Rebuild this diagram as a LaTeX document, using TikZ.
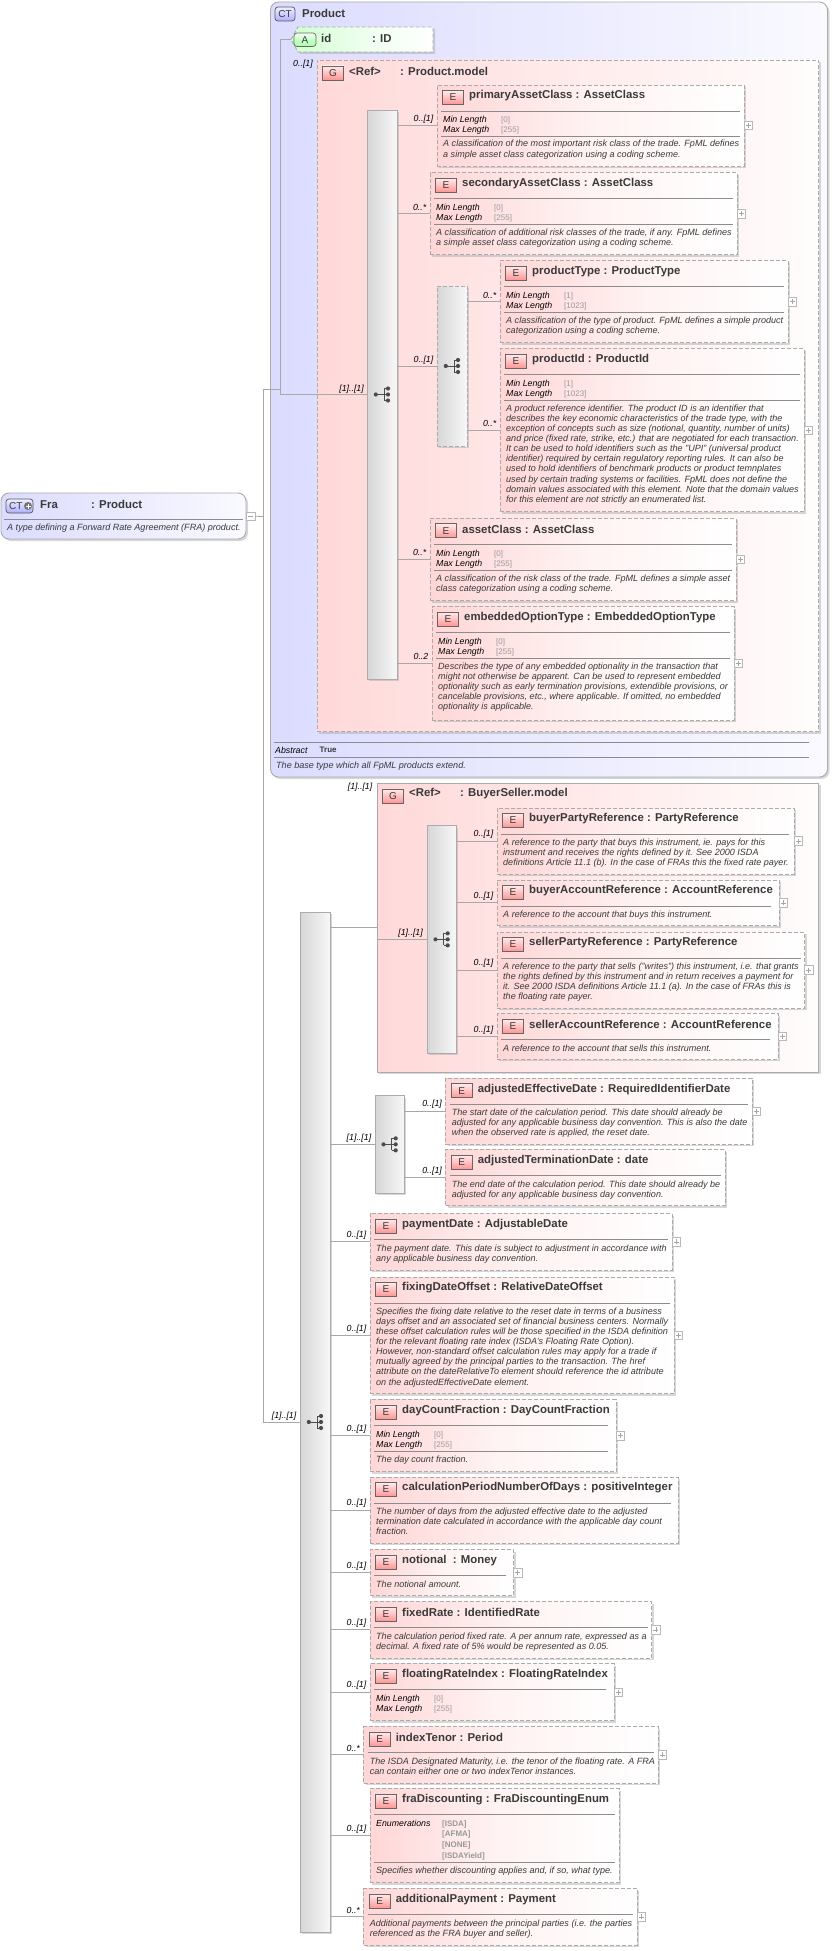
\documentclass[tikz,border=0pt]{standalone}
\usepackage{fontspec}
\setmainfont{Liberation Sans}
\usetikzlibrary{shadows}
\definecolor{edge}{HTML}{ABABAB}
\definecolor{wire}{HTML}{A8A8A8}
\definecolor{ink}{HTML}{3A3A3A}
\definecolor{soft}{HTML}{999999}
\tikzset{
  shd/.style={drop shadow={shadow xshift=2pt,shadow yshift=-2pt,fill=black!35,opacity=.45}},
  dashline/.style={draw=edge,line width=.9pt,dash pattern=on 4pt off 2pt},
  box/.style={anchor=north west,inner sep=0pt,outer sep=0pt},
  elemstyle/.style={box,shd,dashline,left color=red!16!white,right color=white,middle color=red!5!white},
  groupdash/.style={box,shd,dashline,left color=red!15!white,right color=red!1!white,middle color=red!8!white},
  groupsolid/.style={box,shd,draw=edge,line width=.9pt,left color=red!15!white,right color=red!1!white,middle color=red!8!white},
  ctbox/.style={box,shd,draw=edge,line width=.9pt,rounded corners=8pt,left color=blue!14!white,right color=blue!2!white,middle color=blue!8!white},
  barsolid/.style={box,shd,draw=edge,line width=.8pt,left color=black!16,right color=black!3},
  bardash/.style={box,shd,dashline,left color=black!16,right color=black!3},
  badge/.style={box,draw=black!60,line width=.7pt,minimum width=21pt,minimum height=14pt,top color=red!8!white,bottom color=red!42!white,text=ink,font=\fontsize{10}{10}\selectfont},
  ctbadge/.style={box,draw=black!65,line width=.7pt,rounded corners=3pt,minimum height=14pt,top color=blue!6!white,bottom color=blue!32!white,text=ink,font=\fontsize{10}{10}\selectfont},
  titlet/.style={anchor=west,inner sep=0pt,text=ink,font=\fontsize{11.4}{11.4}\selectfont\bfseries},
  desct/.style={anchor=north west,inner sep=0pt,align=left,text=ink,font=\fontsize{9.05}{10.13}\selectfont\itshape},
  facet/.style={anchor=north west,inner sep=0pt,align=left,text=black,font=\fontsize{8.8}{9.8}\selectfont\itshape},
  facetv/.style={anchor=north west,inner sep=0pt,align=left,text=soft,font=\fontsize{8}{9.8}\selectfont},
  mult/.style={anchor=east,inner sep=0pt,text=black,font=\fontsize{8.8}{8.8}\selectfont\itshape},
  wirel/.style={draw=wire,line width=.8pt},
  rulel/.style={draw=black!45,line width=.8pt},
  plusb/.style={anchor=west,inner sep=0pt,outer sep=0pt,draw=black!28,fill=white,line width=.6pt,minimum size=8.5pt},
}
\newcommand{\El}[7]{% id x1 y1 x2 y2 inset title
  \node[elemstyle,minimum width=#4pt-#2pt,minimum height=#5pt-#3pt] (#1) at (#2,#3) {};
  \node[badge] (#1-b) at (#2+5.5,#3+5.5) {E};
  \node[titlet] (#1-t) at (#2+32,#3+11) {#7};
  \draw[rulel] (#2+4,#3+26) -- (#4-#6,#3+26);
}
\newcommand{\Rl}[4]{\draw[rulel] (#1+4,#3) -- (#2-#4,#3);}
\newcommand{\Dsc}[4]{\node[desct] (#1-d) at (#2+6,#3-4) {\rule{0pt}{7pt}#4};}
\newcommand{\Fct}[4]{%
  \node[facet] (#1-f) at (#2+6,#3-3.5) {\rule{0pt}{7pt}Min Length\\Max Length};
  \node[facetv] (#1-v) at (#2+64,#3-3.8) {\rule{0pt}{7pt}[#4]\\[-.1pt][\FctB]};
}
\newcommand{\FctB}{}
\newcommand{\Cn}[3]{% bar id label
  \draw[wirel] (#1.east |- #2.west) -- (#2.west);
  \node[mult] (#2-m) at ([xshift=-3.5pt,yshift=6.6pt]#2.west) {#3};
}
\newcommand{\Pls}[1]{%
  \node[plusb] (#1-p) at (#1.east) {};
  \draw[black!35,line width=.6pt] ([xshift=-2.5pt]#1-p.center) -- ([xshift=2.5pt]#1-p.center);
  \draw[black!35,line width=.6pt] ([yshift=-2.5pt]#1-p.center) -- ([yshift=2.5pt]#1-p.center);
}
\newcommand{\Frk}[1]{%
  \draw[black!70,line width=.9pt] ([xshift=-6pt]#1.center) -- ([xshift=6pt]#1.center);
  \draw[black!70,line width=.9pt] ([xshift=2pt,yshift=6pt]#1.center) -- ([xshift=2pt,yshift=-6pt]#1.center);
  \draw[black!70,line width=.9pt] ([xshift=2pt,yshift=6pt]#1.center) -- ([xshift=6pt,yshift=6pt]#1.center);
  \draw[black!70,line width=.9pt] ([xshift=2pt,yshift=-6pt]#1.center) -- ([xshift=6pt,yshift=-6pt]#1.center);
  \fill[black!70] ([xshift=-6.2pt]#1.center) circle (2.1pt);
  \fill[black!70] ([xshift=6pt]#1.center) circle (2.1pt);
  \fill[black!70] ([xshift=6pt,yshift=6pt]#1.center) circle (2.1pt);
  \fill[black!70] ([xshift=6pt,yshift=-6pt]#1.center) circle (2.1pt);
}
\newcommand{\Bar}[6][barsolid]{% style id x1 y1 x2 y2
  \node[#1,minimum width=#5pt-#3pt,minimum height=#6pt-#4pt] (#2) at (#3,#4) {};
}
\begin{document}
\begin{tikzpicture}[x=1pt,y=-1pt]
\useasboundingbox (0,0) rectangle (832,1951);

% --- root
\node[ctbox,minimum width=245pt,minimum height=46pt] (fra) at (1,493) {};
\node[ctbadge,minimum width=27pt] (fra-b) at (6,499) {};
\node[anchor=west,inner sep=0pt,text=ink,font=\fontsize{10}{10}\selectfont] (fra-c) at (9,506) {CT};
\fill[black!55] (28,506) circle (4pt);
\draw[white,line width=.8pt] (25.5,506) -- (30.5,506) (28,503.5) -- (28,508.5);
\node[titlet] (fra-t) at (40,504) {\makebox[51pt][l]{Fra}: Product};
\draw[rulel] (4,519.5) -- (243,519.5);
\node[desct] (fra-d) at (7,523) {\rule{0pt}{7pt}A type defining a Forward Rate Agreement (FRA) product.};
\node[plusb,anchor=north west] (fra-p) at (246.5,512) {};
\draw[black!35,line width=.6pt] ([xshift=-2.5pt]fra-p.center) -- ([xshift=2.5pt]fra-p.center);
\coordinate (trunk) at (263,516.5);
\coordinate (jn) at (280.5,389);
\draw[wirel] (fra-p.east) -- (trunk);

% --- Product complex type
\node[ctbox,minimum width=557pt,minimum height=775pt] (prod) at (270.5,2) {};
\node[ctbadge,minimum width=20pt] (prod-b) at (275,7) {CT};
\node[titlet] (prod-t) at (302,13) {Product};

% attribute
\path[draw=edge,line width=.9pt,dash pattern=on 4pt off 2pt,left color=green!18!white,right color=white,middle color=green!7!white,drop shadow={shadow xshift=2pt,shadow yshift=-2pt,fill=black!35,opacity=.45}]
  (291,39.5) -- (298,27) -- (433,27) -- (433,52) -- (298,52) -- cycle;
\coordinate (idattr) at (291,39.5);
\node[box,draw=black!60,line width=.7pt,rounded corners=3pt,minimum width=22pt,minimum height=13.5pt,top color=green!6!white,bottom color=green!35!white,text=ink,font=\fontsize{10}{10}\selectfont] (id-b) at (294,33) {A};
\node[titlet] (id-t) at (321,38) {\makebox[51pt][l]{id}: ID};
\node[mult] (id-m) at (313,64) {0..[1]};

% Product.model
\node[groupdash,minimum width=501.6pt,minimum height=671.7pt] (pm) at (317,60) {};
\node[badge] (pm-b) at (322.5,66) {G};
\node[titlet] (pm-t) at (349,71) {\makebox[51pt][l]{<Ref>}: Product.model};
\Bar{seqa}{367}{110}{397}{679}
\Frk{seqa}
\node[mult] (seqa-m) at (364,389) {[1]..[1]};
\draw[wirel] (trunk |- jn) -- (jn);
\draw[wirel] (jn |- idattr) -- (jn |- seqa.west) -- (seqa.west);
\draw[wirel] (jn |- idattr) -- (idattr);

\renewcommand{\FctB}{255}
\El{pac}{437}{85}{744}{166}{4}{primaryAssetClass : AssetClass}
\Fct{pac}{437}{119}{0}
\Rl{437}{744}{136}{4}
\Dsc{pac}{437}{143.7}{A classification of the most important risk class of the trade. FpML defines\\a simple asset class categorization using a coding scheme.}
\Pls{pac}\Cn{seqa}{pac}{0..[1]}

\El{sac}{430}{172.7}{737}{254.7}{4}{secondaryAssetClass : AssetClass}
\Fct{sac}{430}{207}{0}
\Rl{430}{737}{224.3}{4}
\Dsc{sac}{430}{232}{A classification of additional risk classes of the trade, if any. FpML defines\\a simple asset class categorization using a coding scheme.}
\Pls{sac}\Cn{seqa}{sac}{0..*}

\Bar[bardash]{cha}{437}{286}{467}{446}
\Frk{cha}
\draw[wirel] (seqa.east |- cha.west) -- (cha.west);
\node[mult] (cha-m) at (433.5,360) {0..[1]};

\renewcommand{\FctB}{1023}
\El{pty}{500}{260.7}{788}{342.7}{4}{productType : ProductType}
\Fct{pty}{500}{295}{1}
\Rl{500}{788}{312}{4}
\Dsc{pty}{500}{320}{A classification of the type of product. FpML defines a simple product\\categorization using a coding scheme.}
\Pls{pty}\Cn{cha}{pty}{0..*}

\El{pid}{500}{348.7}{804}{511.7}{4}{productId : ProductId}
\Fct{pid}{500}{383}{1}
\Rl{500}{804}{400}{4}
\Dsc{pid}{500}{408}{A product reference identifier. The product ID is an identifier that\\describes the key economic characteristics of the trade type, with the\\exception of concepts such as size (notional, quantity, number of units)\\and price (fixed rate, strike, etc.) that are negotiated for each transaction.\\It can be used to hold identifiers such as the "UPI" (universal product\\identifier) required by certain regulatory reporting rules. It can also be\\used to hold identifiers of benchmark products or product temnplates\\used by certain trading systems or facilities. FpML does not define the\\domain values associated with this element. Note that the domain values\\for this element are not strictly an enumerated list.}
\Pls{pid}\Cn{cha}{pid}{0..*}

\renewcommand{\FctB}{255}
\El{acl}{430}{518.3}{736}{600.7}{4}{assetClass : AssetClass}
\Fct{acl}{430}{553}{0}
\Rl{430}{736}{570}{4}
\Dsc{acl}{430}{578}{A classification of the risk class of the trade. FpML defines a simple asset\\class categorization using a coding scheme.}
\Pls{acl}\Cn{seqa}{acl}{0..*}

\El{eot}{432}{606.7}{734}{720}{4}{embeddedOptionType : EmbeddedOptionType}
\Fct{eot}{432}{641}{0}
\Rl{432}{734}{658}{4}
\Dsc{eot}{432}{666}{Describes the type of any embedded optionality in the transaction that\\might not otherwise be apparent. Can be used to represent embedded\\optionality such as early termination provisions, extendible provisions, or\\cancelable provisions, etc., where applicable. If omitted, no embedded\\optionality is applicable.}
\Pls{eot}\Cn{seqa}{eot}{0..2}

\draw[rulel] (274,742) -- (809,742);
\node[facet] (abs-k) at (275,746) {\rule{0pt}{7pt}Abstract};
\node[anchor=north west,inner sep=0pt,text=ink,font=\fontsize{8}{8}\selectfont\bfseries] (abs-v) at (319.5,745.5) {\rule{0pt}{7pt}True};
\draw[rulel] (274,757) -- (809,757);
\node[desct] (prod-d) at (276,761) {\rule{0pt}{7pt}The base type which all FpML products extend.};

% --- main sequence
\Bar{seqm}{300}{912}{330}{1932}
\draw[wirel] (trunk |- jn) -- (trunk |- seqm.west) -- (seqm.west);
\Frk{seqm}
\node[mult] (seqm-m) at (296.5,1416) {[1]..[1]};

% BuyerSeller.model
\node[groupsolid,minimum width=441.4pt,minimum height=288.7pt] (bs) at (377.3,783.3) {};
\draw[wirel] (seqm.east |- bs.west) -- (bs.west);
\node[mult] (bs-m) at (372.5,787) {[1]..[1]};
\node[badge] (bs-b) at (382.5,789) {G};
\node[titlet] (bs-t) at (409,794) {\makebox[51pt][l]{<Ref>}: BuyerSeller.model};
\Bar{seqb}{427}{825.7}{456.4}{1053}
\Frk{seqb}
\draw[wirel] (bs.west |- seqb.west) -- (seqb.west);
\node[mult] (seqb-m) at (423,933) {[1]..[1]};

\El{bpr}{497}{808}{794}{874}{5}{buyerPartyReference : PartyReference}
\Dsc{bpr}{497}{842}{A reference to the party that buys this instrument, ie. pays for this\\instrument and receives the rights defined by it. See 2000 ISDA\\definitions Article 11.1 (b). In the case of FRAs this the fixed rate payer.}
\Pls{bpr}\Cn{seqb}{bpr}{0..[1]}

\El{bar}{497}{880}{779}{925.7}{8}{buyerAccountReference : AccountReference}
\Dsc{bar}{497}{914}{A reference to the account that buys this instrument.}
\Pls{bar}\Cn{seqb}{bar}{0..[1]}

\El{spr}{497}{932}{804.5}{1008}{4}{sellerPartyReference : PartyReference}
\Dsc{spr}{497}{966}{A reference to the party that sells ("writes") this instrument, i.e. that grants\\the rights defined by this instrument and in return receives a payment for\\it. See 2000 ISDA definitions Article 11.1 (a). In the case of FRAs this is\\the floating rate payer.}
\Pls{spr}\Cn{seqb}{spr}{0..[1]}

\El{sar}{497}{1013.7}{778}{1059.3}{8}{sellerAccountReference : AccountReference}
\Dsc{sar}{497}{1048}{A reference to the account that sells this instrument.}
\Pls{sar}\Cn{seqb}{sar}{0..[1]}

% date sequence
\Bar{seqd}{375}{1095.7}{404.4}{1193}
\Frk{seqd}
\draw[wirel] (seqm.east |- seqd.west) -- (seqd.west);
\node[mult] (seqd-m) at (371.4,1138) {[1]..[1]};

\El{aed}{445.6}{1078.3}{752}{1144}{4}{adjustedEffectiveDate : RequiredIdentifierDate}
\Dsc{aed}{445.6}{1112}{The start date of the calculation period. This date should already be\\adjusted for any applicable business day convention. This is also the date\\when the observed rate is applied, the reset date.}
\Pls{aed}\Cn{seqd}{aed}{0..[1]}

\El{atd}{445.6}{1149.7}{725}{1205.7}{4}{adjustedTerminationDate : date}
\Dsc{atd}{445.6}{1184}{The end date of the calculation period. This date should already be\\adjusted for any applicable business day convention.}
\Cn{seqd}{atd}{0..[1]}

\El{pay}{370}{1213.7}{672}{1270}{4}{paymentDate : AdjustableDate}
\Dsc{pay}{370}{1248}{The payment date. This date is subject to adjustment in accordance with\\any applicable business day convention.}
\Pls{pay}\Cn{seqm}{pay}{0..[1]}

\El{fdo}{370}{1277}{674}{1393.7}{4}{fixingDateOffset : RelativeDateOffset}
\Dsc{fdo}{370}{1311}{Specifies the fixing date relative to the reset date in terms of a business\\days offset and an associated set of financial business centers. Normally\\these offset calculation rules will be those specified in the ISDA definition\\for the relevant floating rate index (ISDA's Floating Rate Option).\\However, non-standard offset calculation rules may apply for a trade if\\mutually agreed by the principal parties to the transaction. The href\\attribute on the dateRelativeTo element should reference the id attribute\\on the adjustedEffectiveDate element.}
\Pls{fdo}\Cn{seqm}{fdo}{0..[1]}

\El{dcf}{370}{1399.7}{616}{1471.7}{8}{dayCountFraction : DayCountFraction}
\Fct{dcf}{370}{1434}{0}
\Rl{370}{616}{1451.3}{8}
\Dsc{dcf}{370}{1459}{The day count fraction.}
\Pls{dcf}\Cn{seqm}{dcf}{0..[1]}

\El{cpn}{370}{1477}{678}{1543}{7}{calculationPeriodNumberOfDays : positiveInteger}
\Dsc{cpn}{370}{1511}{The number of days from the adjusted effective date to the adjusted\\termination date calculated in accordance with the applicable day count\\fraction.}
\Cn{seqm}{cpn}{0..[1]}

\El{ntl}{370}{1549.7}{513.5}{1595.7}{8}{notional\ \ : Money}
\Dsc{ntl}{370}{1584}{The notional amount.}
\Pls{ntl}\Cn{seqm}{ntl}{0..[1]}

\El{fxr}{370}{1601.7}{651.6}{1658}{4}{fixedRate : IdentifiedRate}
\Dsc{fxr}{370}{1636}{The calculation period fixed rate. A per annum rate, expressed as a\\decimal. A fixed rate of 5\% would be represented as 0.05.}
\Pls{fxr}\Cn{seqm}{fxr}{0..[1]}

\El{fri}{370}{1663.7}{614}{1720.7}{8}{floatingRateIndex : FloatingRateIndex}
\Fct{fri}{370}{1698}{0}
\Pls{fri}\Cn{seqm}{fri}{0..[1]}

\El{itn}{363.6}{1726.7}{658}{1783}{4}{indexTenor : Period}
\Dsc{itn}{363.6}{1761}{The ISDA Designated Maturity, i.e. the tenor of the floating rate. A FRA\\can contain either one or two indexTenor instances.}
\Pls{itn}\Cn{seqm}{itn}{0..*}

\El{fra2}{370}{1788.7}{619}{1882.7}{4}{fraDiscounting : FraDiscountingEnum}
\node[facet] (fra2-f) at (376,1819.5) {\rule{0pt}{7pt}Enumerations};
\node[facetv,font=\fontsize{8}{10.6}\selectfont\bfseries] (fra2-v) at (442,1819) {\rule{0pt}{7pt}[ISDA]\\{}[AFMA]\\{}[NONE]\\{}[ISDAYield]};
\Rl{370}{619}{1862.3}{4}
\Dsc{fra2}{370}{1870}{Specifies whether discounting applies and, if so, what type.}
\Cn{seqm}{fra2}{0..[1]}

\El{adp}{363.6}{1888.7}{637}{1945}{4}{additionalPayment : Payment}
\Dsc{adp}{363.6}{1923}{Additional payments between the principal parties (i.e. the parties\\referenced as the FRA buyer and seller).}
\Pls{adp}\Cn{seqm}{adp}{0..*}
\end{tikzpicture}
\end{document}
